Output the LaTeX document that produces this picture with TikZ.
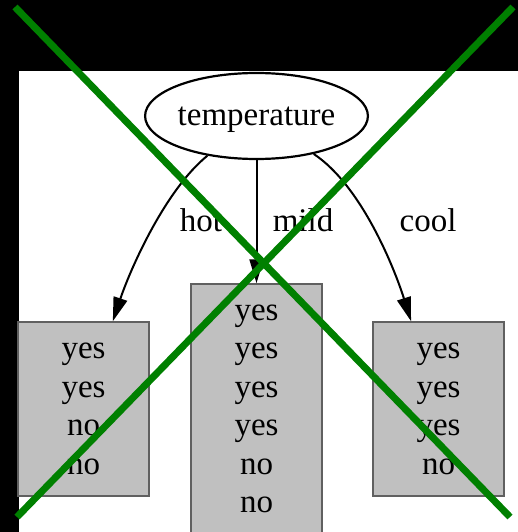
\documentclass[tikz,border=0pt]{standalone}
\usepackage{fontspec}
\setmainfont{Liberation Serif}
\usetikzlibrary{shapes.geometric}
\usetikzlibrary{arrows.meta}
\definecolor{crossgreen}{RGB}{0,128,0}
\definecolor{leafgray}{RGB}{192,192,192}
\definecolor{leafedge}{RGB}{96,96,96}
\tikzset{
    big/.style = {font=\fontsize{33}{38.5}\selectfont},
    attr/.style = {big, draw, ellipse, line width=2.2pt, fill=white,
        minimum width=215pt, minimum height=86pt, inner sep=0pt, text depth=0pt},
    leaf/.style = {big, draw=leafedge, fill=leafgray, line width=1.5pt,
        minimum width=131pt, align=center, inner sep=0pt},
    branch/.style = {line width=2pt, -{Triangle[length=24pt,width=14pt]}},
    crossline/.style = {color=crossgreen, line width=7pt}
}

\begin{document}
\begin{tikzpicture}[x=1pt, y=-1pt]
    \useasboundingbox (0,0) rectangle (518,532);
    \fill[black] (0,0) rectangle (518,532);
    \fill[white] (19,71) rectangle (518,532);

    \node[attr] (temp) at (256.5,116) {temperature};
    \node[leaf, minimum height=174pt] (hotbox) at (83.5,409) {yes\\yes\\no\\no};
    \node[leaf, minimum height=250pt] (mildbox) at (256.5,409) {yes\\yes\\yes\\yes\\no\\no};
    \node[leaf, minimum height=174pt] (coolbox) at (438.5,409) {yes\\yes\\yes\\no};

    \draw[branch] (temp) .. controls (165,190) and (130,270) .. (hotbox);
    \draw[branch] (temp) -- (mildbox);
    \draw[branch] (temp) .. controls (362,186) and (395,270) .. (coolbox);

    \node[big] (hot) at (201,220) {hot};
    \node[big] (mild) at (303,220) {mild};
    \node[big] (cool) at (428,220) {cool};

    % the cross over the whole tree
    \coordinate (nw) at (15,7);
    \coordinate (se) at (510,517);
    \coordinate (ne) at (513,7);
    \coordinate (sw) at (17,517);
    \draw[crossline] (nw) -- (se);
    \draw[crossline] (ne) -- (sw);
\end{tikzpicture}
\end{document}
